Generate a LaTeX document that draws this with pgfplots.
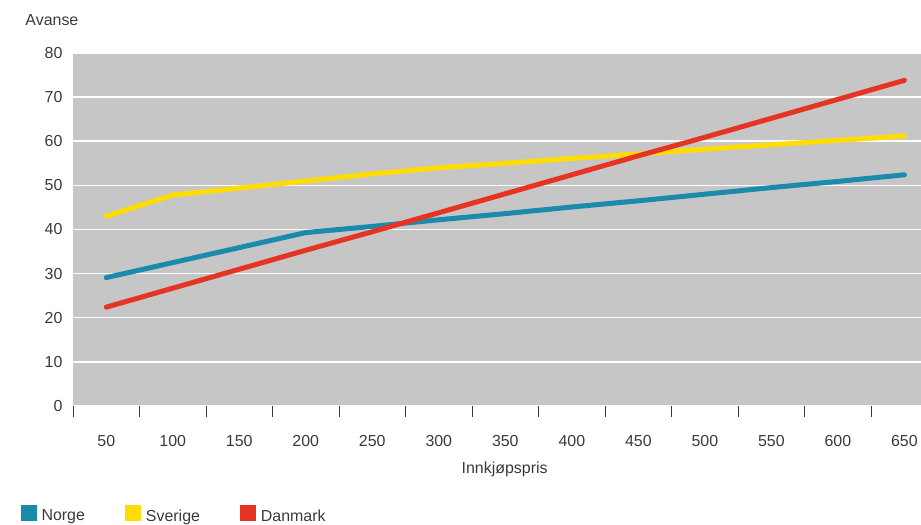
\documentclass[border=0pt]{standalone}
\usepackage{fontspec}
\setmainfont{Liberation Sans}
\usepackage{pgfplots}
\pgfplotsset{compat=1.18}
\definecolor{bg}{HTML}{C6C6C6}
\definecolor{norge}{HTML}{1A8AAD}
\definecolor{sverige}{HTML}{FFDD00}
\definecolor{danmark}{HTML}{E63323}
\definecolor{txt}{HTML}{3A3A3A}
\begin{document}
\begin{tikzpicture}
\useasboundingbox (0,0) rectangle (921bp,525bp);
\begin{axis}[
  at={(73bp,119bp)}, anchor=south west,
  scale only axis, width=848bp, height=353bp,
  xmin=-0.5, xmax=12.25, ymin=0, ymax=80,
  axis background/.style={fill=bg},
  axis line style={draw=none},
  /pgf/number format/assume math mode=true,
  font=\fontsize{16}{19}\selectfont,
  tick label style={text=txt, font=\fontsize{16}{19}\selectfont},
  xtick pos=bottom, ytick pos=left,
  xtick={0,...,12},
  xticklabels={50,100,150,200,250,300,350,400,450,500,550,600,650},
  major tick length=0bp,
  xticklabel style={yshift=-26bp},
  yticklabel style={xshift=-7bp},
  extra x ticks={-0.5,0.5,...,11.5},
  extra x tick labels={},
  extra x tick style={grid=none, tick align=outside, major tick length=11bp,
    tick style={draw=txt, line width=0.9bp}},
  ytick={0,10,...,80},
  ytick style={draw=none},
  ymajorgrids,
  grid style={white, line width=1.5bp},
  xlabel={Innkjøpspris},
  xlabel style={at={(axis description cs:0.509,0)}, anchor=north, yshift=-52bp, text=txt},
  ylabel={Avanse},
  ylabel style={rotate=-90, at={(axis description cs:-0.0602,1.079)}, anchor=base west, text=txt},
  legend style={at={(axis description cs:-0.0656,-0.2749)}, anchor=north west,
    legend columns=3, draw=none, fill=none, text=txt,
    font=\fontsize{16}{19}\selectfont,
    /tikz/every even column/.append style={column sep=38bp}},
  legend image code/.code={\path[draw=none,fill=none] (0bp,0bp) -- (19bp,0bp);\fill[#1, draw=none] (0bp,-5bp) rectangle (16bp,11bp);},
  clip=false,
]
\addplot[color=norge, line width=5bp, line join=round, line cap=round] coordinates {
 (0,29.1) (1,32.5) (2,35.9) (3,39.3) (4,40.7) (5,42.2) (6,43.6) (7,45.1) (8,46.5) (9,48.0) (10,49.5) (11,50.9) (12,52.4)};
\addlegendentry{Norge}
\addplot[color=sverige, line width=5bp, line join=round, line cap=round] coordinates {
 (0,43.0) (1,47.8) (2,49.4) (3,51.0) (4,52.6) (5,54.0) (6,55.0) (7,56.1) (8,57.1) (9,58.2) (10,59.2) (11,60.2) (12,61.2)};
\addlegendentry{Sverige}
\addplot[color=danmark, line width=5bp, line join=round, line cap=round] coordinates {
 (0,22.4) (1,26.7) (2,31.0) (3,35.3) (4,39.5) (5,43.8) (6,48.1) (7,52.4) (8,56.7) (9,60.9) (10,65.2) (11,69.5) (12,73.8)};
\addlegendentry{Danmark}
\end{axis}
\end{tikzpicture}
\end{document}
